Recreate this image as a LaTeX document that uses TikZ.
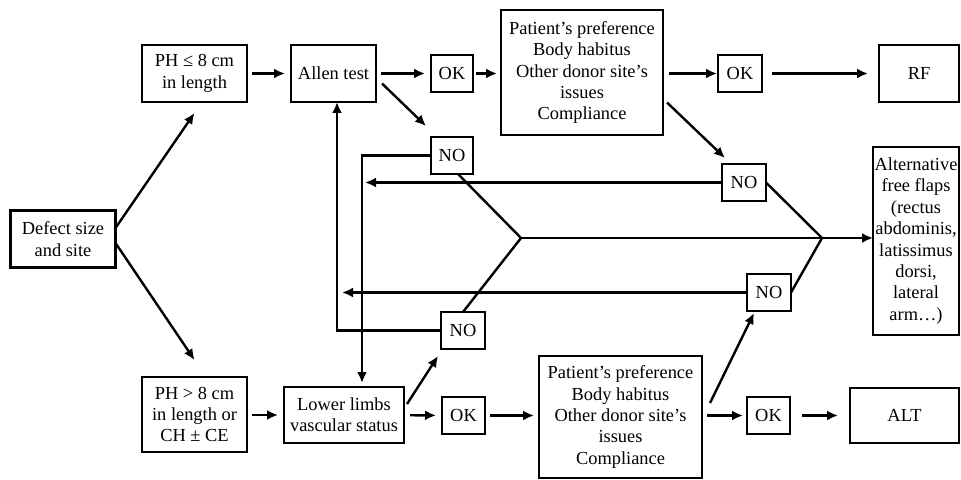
\documentclass[tikz,border=0pt]{standalone}
\usepackage{fontspec}
\setmainfont{Liberation Serif}
\usetikzlibrary{arrows.meta}
\begin{document}
\begin{tikzpicture}[x=0.5pt, y=-0.5pt]
\tikzset{ >={Latex[length=5.5pt, width=5pt]}, inner sep=0pt, outer sep=0pt,
  box/.style={draw, line width=1.3pt, align=center, font=\fontsize{9.2}{10.7}\selectfont},
  link/.style={line width=1.2pt} }

\useasboundingbox (0,0) rectangle (961,480);

% upper branch
\node [box, minimum width=52.5pt, minimum height=28.5pt] (defect) at (63,239) {Defect size\\and site};
\node [box, minimum width=52.5pt, minimum height=28.5pt] (ph1) at (194.5,73.5) {PH ≤ 8 cm\\in length};
\node [box, minimum width=42.5pt, minimum height=28.5pt] (allen) at (333.5,73.5) {Allen test};
\node [box, minimum width=21pt, minimum height=18.5pt] (ok1) at (452,73.5) {OK};
\node [box, minimum width=21pt, minimum height=18.5pt] (no1) at (452,155.5) {NO};
\node [box, minimum width=81pt, minimum height=62.5pt] (pref1) at (582,72.5) {Patient's preference\\Body habitus\\Other donor site's\\issues\\Compliance};
\node [box, minimum width=22pt, minimum height=18.5pt] (ok2) at (740,73.5) {OK};
\node [box, minimum width=40pt, minimum height=28.5pt] (rf) at (919,73.5) {RF};
\node [box, minimum width=22pt, minimum height=18.5pt] (no2) at (744,182.5) {NO};

% right column
\node [box, minimum width=43pt, minimum height=94pt] (alt) at (916,241) {Alternative\\free flaps\\(rectus\\abdominis,\\latissimus\\dorsi,\\lateral\\arm\ldots)};

% lower branch
\node [box, minimum width=22pt, minimum height=18.5pt] (no3) at (463,330.5) {NO};
\node [box, minimum width=22pt, minimum height=18.5pt] (no4) at (769,292.5) {NO};
\node [box, minimum width=52.5pt, minimum height=37.5pt] (ph2) at (194.5,414.5) {PH > 8 cm\\in length or\\CH ± CE};
\node [box, minimum width=60pt, minimum height=28pt] (lower) at (344,415) {Lower limbs\\vascular status};
\node [box, minimum width=21.5pt, minimum height=18.5pt] (ok3) at (463.5,415.5) {OK};
\node [box, minimum width=81.5pt, minimum height=61pt] (pref2) at (620.5,417) {Patient's preference\\Body habitus\\Other donor site's\\issues\\Compliance};
\node [box, minimum width=21.5pt, minimum height=18.5pt] (ok4) at (768.5,415.5) {OK};
\node [box, minimum width=54.5pt, minimum height=27.5pt] (altb) at (904.5,415.5) {ALT};

\coordinate (jl) at (521,238);
\coordinate (jr) at (822,238);
\coordinate (tipA) at (365,185);
\coordinate (tipB) at (342,293);

\draw [link, ->] ([yshift=5.5pt]defect.east) -- ([yshift=-5.5pt]ph1.south);
\draw [link, ->] ([yshift=-2pt]defect.east) -- ([yshift=8.5pt]ph2.north);

\draw [link, ->, shorten <=2.5pt, shorten >=3pt] (ph1) -- (allen);
\draw [link, ->, shorten <=2.5pt, shorten >=3pt] (allen) -- (ok1);
\draw [link, ->, shorten <=1.5pt, shorten >=2pt] (ok1) -- (pref1.west |- ok1);
\draw [link, ->, shorten <=3pt, shorten >=0.5pt] (pref1.east |- ok2) -- (ok2);
\draw [link, ->, shorten <=5pt, shorten >=5.5pt] (ok2) -- (rf);
\draw [link, ->] ([xshift=3pt, yshift=-5pt]allen.east) -- ([xshift=-2.5pt, yshift=5.5pt]no1.north west);
\draw [link, ->] ([xshift=2pt, yshift=-15pt]pref1.east) -- ([xshift=1.5pt, yshift=3pt]no2.north west);

\draw [link, ->, shorten <=2.5pt, shorten >=3pt] (ph2.east |- lower) -- (lower);
\draw [link, ->, shorten <=3pt, shorten >=3pt] (lower) -- (ok3);
\draw [link, ->, shorten <=2.5pt, shorten >=2.5pt] (ok3) -- (pref2.west |- ok3);
\draw [link, ->, shorten <=2.5pt, shorten >=2pt] (pref2.east |- ok4) -- (ok4);
\draw [link, ->, shorten <=6pt, shorten >=6pt] (ok4) -- (altb);
\draw [link, ->] ([xshift=1.5pt, yshift=5.5pt]lower.east) -- ([xshift=-1.5pt, yshift=-3.5pt]no3.south west);
\draw [link, ->] ([xshift=4pt, yshift=7pt]pref2.east) -- ([xshift=3.5pt, yshift=-1pt]no4.south west);

% NO loops
\draw [link, ->] (no1.west) -| ([xshift=9pt, yshift=2pt]lower.north);
\draw [link, ->] (no3.west) -| ([xshift=1.75pt]allen.south);
\draw [link, ->] (no2.west) -- (no2.west -| tipA);
\draw [link, ->] (no4.west) -- (no4.west -| tipB);

\draw [link] ([xshift=3pt]no1.south) -- (jl) -- (no3.north);
\draw [link] (no2.east) -- (jr) -- (no4.east);
\draw [link, ->] (jl) -- (jl -| alt.west);

\end{tikzpicture}
\end{document}
